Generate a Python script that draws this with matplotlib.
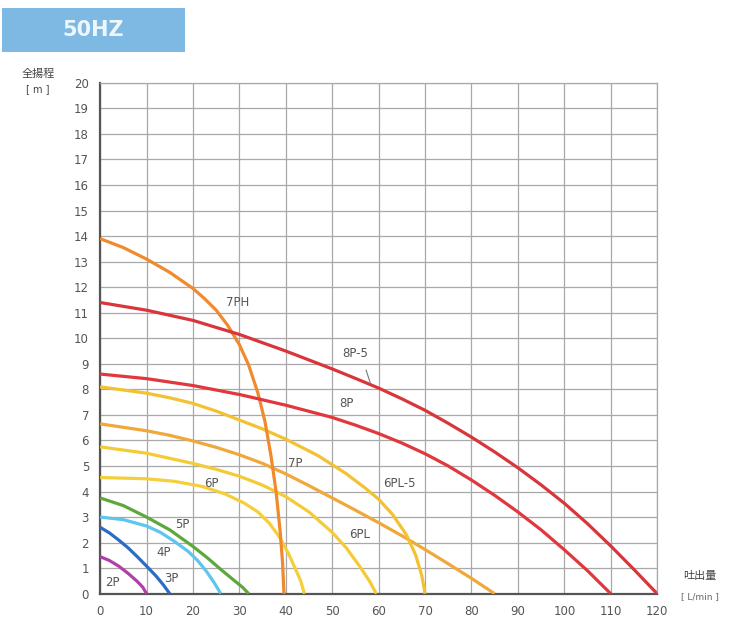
import matplotlib.pyplot as plt
from matplotlib.patches import Rectangle

# pump curves: flow [L/min] vs total head [m]
flow_2p = [0, 2, 4, 6, 8, 9.2, 10]
head_2p = [1.45, 1.3, 1.08, 0.8, 0.48, 0.25, 0]
flow_3p = [0, 2, 4, 6, 8, 10, 12, 13.6, 15]
head_3p = [2.6, 2.38, 2.1, 1.8, 1.45, 1.08, 0.7, 0.35, 0]
flow_4p = [0, 5, 10, 13, 16, 19, 21, 23, 24.5, 26]
head_4p = [3.0, 2.9, 2.65, 2.4, 2.05, 1.65, 1.3, 0.85, 0.45, 0]
flow_5p = [0, 5, 10, 15, 20, 23, 26, 29, 30.7, 32]
head_5p = [3.75, 3.45, 3.0, 2.5, 1.85, 1.42, 0.95, 0.5, 0.25, 0]
flow_6p = [0, 10, 16, 22, 27, 31, 34, 36.5, 38.5, 40.5, 42, 43.2, 44]
head_6p = [4.55, 4.5, 4.4, 4.2, 3.9, 3.55, 3.2, 2.75, 2.25, 1.6, 1.0, 0.5, 0]
flow_6pl = [0, 10, 20, 25, 30, 35, 40, 45, 50, 53, 56, 58, 59.5]
head_6pl = [5.75, 5.5, 5.1, 4.87, 4.6, 4.25, 3.8, 3.2, 2.4, 1.8, 1.05, 0.5, 0]
flow_7p = [0, 10, 15, 20, 25, 30, 35, 40, 45, 50, 55, 60, 65, 70, 75, 80, 85]
head_7p = [6.65, 6.38, 6.2, 5.98, 5.73, 5.44, 5.1, 4.69, 4.23, 3.75, 3.27, 2.78, 2.27, 1.73, 1.17, 0.6, 0]
flow_6pl5 = [0, 10, 15, 20, 25, 30, 35, 40, 47, 53, 57, 60, 63, 66, 68, 69.3, 70]
head_6pl5 = [8.1, 7.85, 7.67, 7.45, 7.15, 6.8, 6.45, 6.05, 5.4, 4.7, 4.15, 3.7, 3.1, 2.3, 1.5, 0.7, 0]
flow_7ph = [0, 5, 10, 15, 20, 22.5, 25, 27.5, 30, 32, 34, 35.5, 36.8, 37.9, 38.8, 39.3, 39.6]
head_7ph = [13.9, 13.55, 13.1, 12.58, 11.95, 11.55, 11.1, 10.5, 9.75, 8.95, 7.85, 6.75, 5.4, 4.0, 2.4, 1.2, 0]
flow_8p = [0, 10, 20, 30, 40, 50, 55, 60, 65, 70, 75, 80, 85, 90, 95, 100, 105, 110]
head_8p = [8.6, 8.42, 8.15, 7.8, 7.38, 6.9, 6.6, 6.27, 5.9, 5.48, 5.0, 4.45, 3.85, 3.2, 2.5, 1.72, 0.9, 0]
flow_8p5 = [0, 10, 20, 30, 40, 50, 55, 60, 65, 70, 75, 80, 85, 90, 95, 100, 105, 110, 115, 120]
head_8p5 = [11.4, 11.1, 10.7, 10.15, 9.5, 8.8, 8.43, 8.05, 7.63, 7.18, 6.67, 6.13, 5.55, 4.93, 4.26, 3.54, 2.74, 1.87, 0.95, 0]

x_ticks = list(range(0, 121, 10))
y_ticks = list(range(0, 21))

fig = plt.figure(figsize=(7.31, 6.23), dpi=100)
ax = fig.add_axes([0.137, 0.047, 0.762, 0.82])

curves = [
    (flow_2p, head_2p, "#b040a8", "2P", 2.6, 0.45),
    (flow_3p, head_3p, "#2b6cc4", "3P", 15.3, 0.6),
    (flow_4p, head_4p, "#5ec6ee", "4P", 13.6, 1.6),
    (flow_5p, head_5p, "#5da83a", "5P", 17.7, 2.7),
    (flow_6p, head_6p, "#f5cf3a", "6P", 24.0, 4.3),
    (flow_6pl, head_6pl, "#f5cb35", "6PL", 56.0, 2.3),
    (flow_7p, head_7p, "#f0a83a", "7P", 42.0, 5.1),
    (flow_6pl5, head_6pl5, "#f3c232", "6PL-5", 64.5, 4.3),
    (flow_7ph, head_7ph, "#f08a2c", "7PH", 29.6, 11.4),
    (flow_8p, head_8p, "#e0383c", "8P", 53.0, 7.45),
    (flow_8p5, head_8p5, "#d8363a", "8P-5", 55.0, 9.4),
]

for fx, hy, color, name, lx, ly in curves:
    ax.plot(fx, hy, color=color, lw=2.3, solid_capstyle="butt",
            solid_joinstyle="round", zorder=3)
    ax.text(lx, ly, name, fontsize=8.5, color="#555555", ha="center",
            va="center", zorder=4)

# small leader tick under the 8P-5 label
ax.plot([57.3, 58.2], [8.75, 8.25], color="#777777", lw=0.8, zorder=4)

ax.set_xlim(0, 120)
ax.set_ylim(0, 20)
ax.set_xticks(x_ticks)
ax.set_yticks(y_ticks)
ax.grid(True, color="#a8a8a8", lw=0.9)
ax.set_axisbelow(True)
ax.tick_params(length=0, labelsize=8.5, labelcolor="#555555", pad=8)
for side in ["top", "right"]:
    ax.spines[side].set_color("#a8a8a8")
    ax.spines[side].set_linewidth(0.9)
for side in ["left", "bottom"]:
    ax.spines[side].set_color("#555555")
    ax.spines[side].set_linewidth(1.6)

# axis captions
cjk = ["Noto Sans CJK JP", "DejaVu Sans"]
fig.text(0.052, 0.882, "全揚程", family=cjk, fontsize=8, color="#444444",
         ha="center", va="center")
fig.text(0.052, 0.857, "[ m ]", fontsize=7, color="#444444",
         ha="center", va="center")
fig.text(0.958, 0.075, "吐出量", family=cjk, fontsize=8, color="#444444",
         ha="center", va="center")
fig.text(0.958, 0.043, "[ L/min ]", fontsize=6.5, color="#666666",
         ha="center", va="center")

# 50HZ badge
fig.patches.append(Rectangle((0.003, 0.917), 0.25, 0.07, transform=fig.transFigure,
                             facecolor="#7db9e2", edgecolor="none"))
fig.text(0.128, 0.952, "50HZ", fontsize=15, color="#eef6fb", ha="center",
         va="center", weight="bold")

fig.savefig("out.png", dpi=100)
